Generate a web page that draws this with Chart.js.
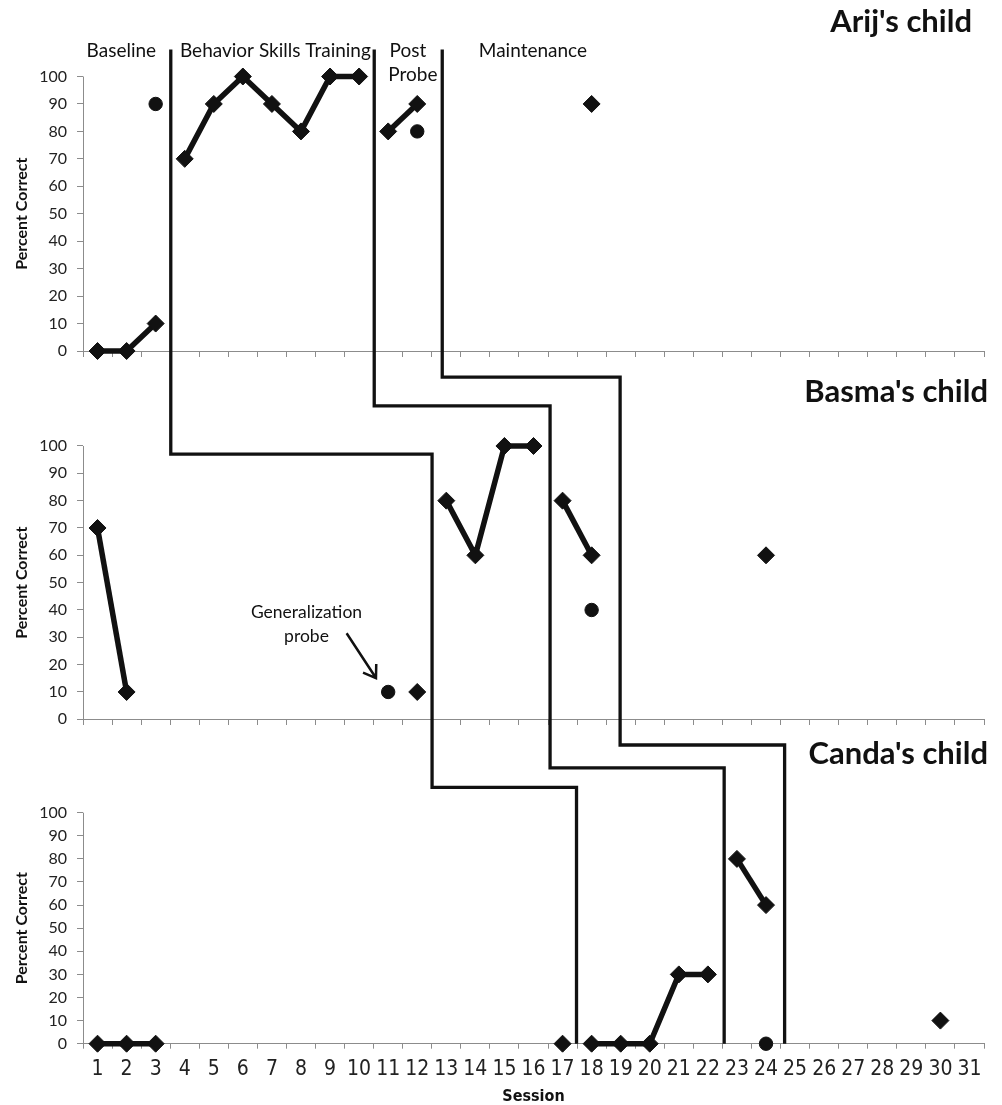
<!DOCTYPE html>
<html>
<head>
<meta charset="utf-8">
<title>Percent Correct by Session</title>
<script src="https://cdn.jsdelivr.net/npm/chart.js@4.4.1/dist/chart.umd.min.js"></script>
<style>
  body { margin: 0; background: #fff; }
  #wrap { width: 1002px; height: 1105px; }
</style>
</head>
<body>
<div id="wrap"><canvas id="sessionChart" width="1002" height="1105"></canvas></div>
<script>
// Sessions (category axis) and y ticks
const sessions = [1, 2, 3, 4, 5, 6, 7, 8, 9, 10, 11, 12, 13, 14, 15, 16,
                  17, 18, 19, 20, 21, 22, 23, 24, 25, 26, 27, 28, 29, 30, 31];
const yTicks = [0, 10, 20, 30, 40, 50, 60, 70, 80, 90, 100];

// Arij's child: [session, percent correct]
const arijBaseline = [[1, 0], [2, 0], [3, 10]];
const arijTraining = [[4, 70], [5, 90], [6, 100], [7, 90], [8, 80], [9, 100], [10, 100]];
const arijPost = [[11, 80], [12, 90]];
const arijMaint = [[18, 90]];
const arijProbes = [[3, 90], [12, 80]];

// Basma's child
const basmaBaseline = [[1, 70], [2, 10]];
const basmaBaselineLate = [[12, 10]];
const basmaTraining = [[13, 80], [14, 60], [15, 100], [16, 100]];
const basmaPost = [[17, 80], [18, 60]];
const basmaMaint = [[24, 60]];
const basmaProbes = [[11, 10], [18, 40]];

// Canda's child
const candaBaseline = [[1, 0], [2, 0], [3, 0]];
const candaBaselineLate = [[17, 0]];
const candaTraining = [[18, 0], [19, 0], [20, 0], [21, 30], [22, 30]];
const candaPost = [[23, 80], [24, 60]];
const candaMaint = [[30, 10]];
const candaProbes = [[24, 0]];

const ink = '#111111';
const gray = '#8c8c8c';
const sans = 'Lato, "Open Sans", sans-serif';
const narrow = '"Liberation Sans Narrow", "DejaVu Sans Condensed", sans-serif';

// phase change lines, corners as [session, axis, value]
const phaseLines = [
  [[3.52, 'y1', 109.8], [3.52, 'y2', 97], [12.51, 'y2', 97], [12.51, 'y3', 111], [17.48, 'y3', 111], [17.48, 'y3', 0]],
  [[10.52, 'y1', 109.8], [10.52, 'y1', -20], [16.57, 'y1', -20], [16.57, 'y2', -17.8], [22.56, 'y2', -17.8], [22.56, 'y3', 0]],
  [[12.86, 'y1', 109.8], [12.86, 'y1', -9.5], [18.98, 'y1', -9.5], [18.98, 'y2', -9.4], [24.64, 'y2', -9.4], [24.64, 'y3', 0]]
];
const phaseLabels = [
  ['Baseline', 1.82, 'y1', 107.1],
  ['Behavior Skills Training', 7.12, 'y1', 107.1],
  ['Post', 11.68, 'y1', 107.1],
  ['Probe', 11.85, 'y1', 98.4],
  ['Maintenance', 15.98, 'y1', 107.1]
];
const panelTitles = [
  ["Arij's child", 'y1', 116.2],
  ["Basma's child", 'y2', 116.1],
  ["Canda's child", 'y3', 120.9]
];

function diamonds(data, x, y) {
  return {
    data, xAxisID: x, yAxisID: y,
    borderColor: ink, backgroundColor: ink, borderWidth: 5.5,
    pointStyle: 'rectRot', pointRadius: 8.5, pointBorderWidth: 1,
    pointBackgroundColor: ink, pointBorderColor: ink,
    tension: 0, clip: false
  };
}
function circles(data, x, y) {
  return {
    data, xAxisID: x, yAxisID: y, showLine: false,
    pointStyle: 'circle', pointRadius: 6.7, pointBorderWidth: 1,
    pointBackgroundColor: ink, pointBorderColor: ink, clip: false
  };
}

function yAxis(min, max, weight, stackWeight) {
  return {
    type: 'linear', position: 'left', stack: 'panels', stackWeight, weight,
    min, max, bounds: 'data',
    afterBuildTicks: s => { s.ticks = yTicks.map(v => ({ value: v })); },
    afterFit: s => { s.width = 83; },
    grid: { drawOnChartArea: false, color: gray, tickLength: 6 },
    border: { display: false },
    ticks: { autoSkip: false, padding: 10, color: '#222', font: { family: sans, size: 16 } }
  };
}
function xAxis(position, showLabels) {
  return {
    type: 'category', position, offset: true,
    grid: { offset: true, drawOnChartArea: false, color: gray, tickLength: 5 },
    border: { color: gray },
    ticks: {
      display: showLabels, autoSkip: false, maxRotation: 0, minRotation: 0,
      padding: 8, color: '#222', font: { family: narrow, size: 21 }
    }
  };
}

const overlay = {
  id: 'overlay',
  afterDraw(chart) {
    const { ctx, chartArea, scales } = chart;
    const px = s => scales.x3.getPixelForValue(s - 1);
    const py = (axis, v) => scales[axis].getPixelForValue(v);
    ctx.save();

    // y axis lines, 0 to 100 only
    ctx.strokeStyle = gray;
    ctx.lineWidth = 1;
    ['y1', 'y2', 'y3'].forEach(id => {
      const x = Math.round(chartArea.left) + 0.5;
      ctx.beginPath();
      ctx.moveTo(x, py(id, 0));
      ctx.lineTo(x, py(id, 100));
      ctx.stroke();
    });

    // phase change lines
    ctx.strokeStyle = ink;
    ctx.lineWidth = 3.3;
    ctx.lineJoin = 'miter';
    phaseLines.forEach(path => {
      ctx.beginPath();
      path.forEach(([s, axis, v], i) => {
        const x = px(s), y = py(axis, v);
        if (i) ctx.lineTo(x, y); else ctx.moveTo(x, y);
      });
      ctx.stroke();
    });

    // phase labels
    ctx.fillStyle = ink;
    ctx.textAlign = 'center';
    ctx.textBaseline = 'alphabetic';
    ctx.font = '19px ' + sans;
    phaseLabels.forEach(([t, s, axis, v]) => ctx.fillText(t, px(s), py(axis, v)));

    // panel titles
    ctx.textAlign = 'right';
    ctx.font = 'bold 31px ' + sans;
    panelTitles.forEach(([t, axis, v], i) => {
      ctx.fillText(t, i === 0 ? 972 : 988, py(axis, v));
    });

    // y axis titles
    ctx.font = 'bold 16px ' + sans;
    ctx.textAlign = 'center';
    ctx.textBaseline = 'middle';
    ['y1', 'y2', 'y3'].forEach(id => {
      ctx.save();
      ctx.translate(22, (py(id, 0) + py(id, 100)) / 2);
      ctx.rotate(-Math.PI / 2);
      ctx.fillText('Percent Correct', 0, 0);
      ctx.restore();
    });

    // generalization probe note and arrow
    ctx.font = '17.5px ' + sans;
    ctx.textBaseline = 'alphabetic';
    ctx.fillText('Generalization', px(8.19), py('y2', 37.1));
    ctx.fillText('probe', px(8.19), py('y2', 28.4));
    const x0 = px(9.57), y0 = py('y2', 31.5), x1 = px(10.58), y1 = py('y2', 15.1);
    ctx.lineWidth = 2.5;
    ctx.beginPath();
    ctx.moveTo(x0, y0);
    ctx.lineTo(x1, y1);
    const ang = Math.atan2(y1 - y0, x1 - x0);
    ctx.moveTo(x1 - 14 * Math.cos(ang - 0.6), y1 - 14 * Math.sin(ang - 0.6));
    ctx.lineTo(x1, y1);
    ctx.lineTo(x1 - 14 * Math.cos(ang + 0.6), y1 - 14 * Math.sin(ang + 0.6));
    ctx.stroke();

    ctx.restore();
  }
};

const ctx = document.getElementById('sessionChart').getContext('2d');
const sessionChart = new Chart(ctx, {
  type: 'line',
  data: {
    labels: sessions,
    datasets: [
      diamonds(arijBaseline, 'x1', 'y1'),
      diamonds(arijTraining, 'x1', 'y1'),
      diamonds(arijPost, 'x1', 'y1'),
      diamonds(arijMaint, 'x1', 'y1'),
      circles(arijProbes, 'x1', 'y1'),
      diamonds(basmaBaseline, 'x2', 'y2'),
      diamonds(basmaBaselineLate, 'x2', 'y2'),
      diamonds(basmaTraining, 'x2', 'y2'),
      diamonds(basmaPost, 'x2', 'y2'),
      diamonds(basmaMaint, 'x2', 'y2'),
      circles(basmaProbes, 'x2', 'y2'),
      diamonds(candaBaseline, 'x3', 'y3'),
      diamonds(candaBaselineLate, 'x3', 'y3'),
      diamonds(candaTraining, 'x3', 'y3'),
      diamonds(candaPost, 'x3', 'y3'),
      diamonds(candaMaint, 'x3', 'y3'),
      circles(candaProbes, 'x3', 'y3')
    ]
  },
  options: {
    responsive: false,
    animation: false,
    layout: { padding: { top: 40, right: 18, left: 0, bottom: 0 } },
    plugins: { legend: { display: false }, tooltip: { enabled: false } },
    scales: {
      y1: yAxis(-17.85, 113.3, 3, 360),
      y2: yAxis(-18.55, 116.83, 2, 370),
      y3: yAxis(0, 118.48, 1, 273.7),
      x1: xAxis({ y1: 0 }, false),
      x2: xAxis({ y2: 0 }, false),
      x3: Object.assign(xAxis('bottom', true), {
        afterFit: s => { s.height = 61.3; },
        title: {
          display: true, text: 'Session', color: ink, padding: 0,
          font: { family: narrow, size: 16, weight: 'bold', lineHeight: 1 }
        }
      })
    }
  },
  plugins: [overlay]
});
</script>
</body>
</html>
